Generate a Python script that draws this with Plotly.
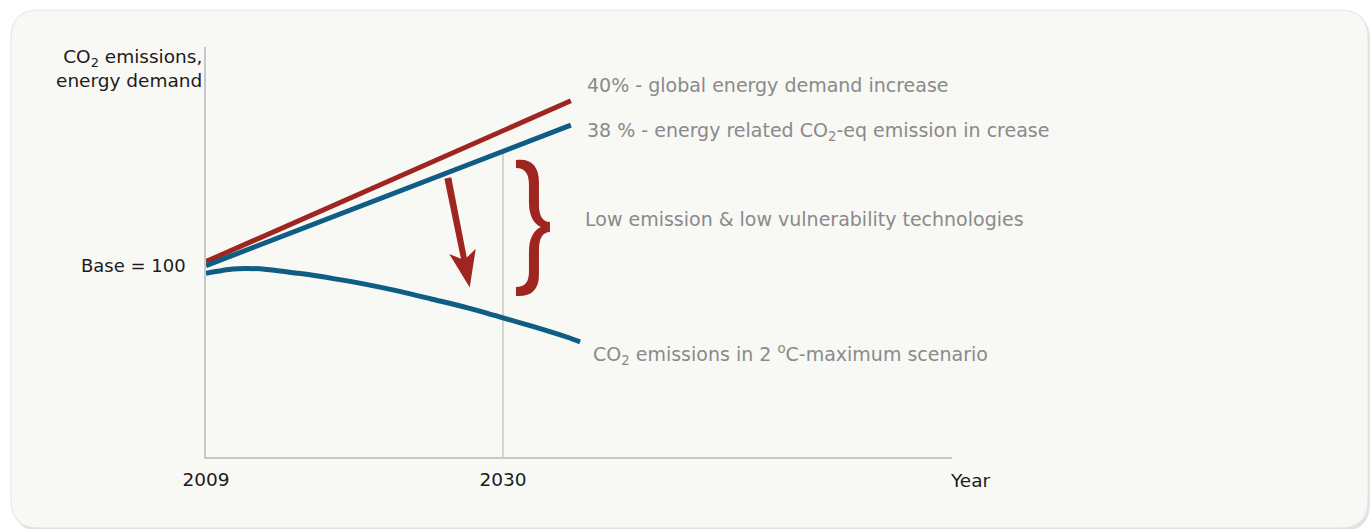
import numpy as np
import plotly.graph_objects as go

# ---------------- data ----------------
line_years = [2009, 2034.8]
demand_vals = [101.1, 141.3]          # global energy demand (+40%)
emission_vals = [100.1, 135.2]        # energy related CO2-eq emissions (+38%)
scenario_years = [2009, 2010.9, 2011.8, 2013.3, 2015.7, 2018, 2020.4, 2022.7, 2025,
                  2027.5, 2030, 2032.1, 2034.5, 2035.45]
scenario_vals = [98.2, 99.25, 99.4, 99.15, 98.1, 96.85, 95.35, 93.65, 91.7,
                 89.55, 87.05, 84.9, 82.25, 81.05]
x_tick_vals = [2009, 2030]
x_tick_text = ["2009", "2030"]
y_tick_vals = [100]
y_tick_text = ["Base = 100"]
marker_year = 2030

# ---------------- layout geometry ----------------
W, H = 1372, 529
x_range = [2009, 2061.75]
y_range = [52.25, 154.75]
M_L, M_R, M_T, M_B = 206, 420, 47, 72
PW, PH = W - M_L - M_R, H - M_T - M_B

RED = "#9f2520"
BLUE = "#0f5c84"
AXIS = "#c8c8c8"
GRAY_TXT = "#8a8a8a"
BLACK_TXT = "#1c1c1c"
FONT = "DejaVu Sans"


def to_px(x, y):
    return (M_L + (x - x_range[0]) / (x_range[1] - x_range[0]) * PW,
            M_T + (y_range[1] - y) / (y_range[1] - y_range[0]) * PH)


def to_data(px, py):
    return (x_range[0] + (px - M_L) / PW * (x_range[1] - x_range[0]),
            y_range[1] - (py - M_T) / PH * (y_range[1] - y_range[0]))


def to_paper(px, py):
    return ((px - M_L) / PW, 1 - (py - M_T) / PH)


def rounded_rect_path(x0, y0, x1, y1, r):
    def P(px, py):
        a, b = to_paper(px, py)
        return f"{a:.5f},{b:.5f}"
    return (f"M {P(x0 + r, y0)} L {P(x1 - r, y0)} Q {P(x1, y0)} {P(x1, y0 + r)} "
            f"L {P(x1, y1 - r)} Q {P(x1, y1)} {P(x1 - r, y1)} L {P(x0 + r, y1)} "
            f"Q {P(x0, y1)} {P(x0, y1 - r)} L {P(x0, y0 + r)} Q {P(x0, y0)} {P(x0 + r, y0)} Z")


fig = go.Figure()

# vertical 2030 marker (from axis up to the emission line)
top_2030 = float(np.interp(marker_year, line_years, emission_vals))
fig.add_trace(go.Scatter(x=[marker_year, marker_year], y=[y_range[0], top_2030],
                         mode="lines", line=dict(color=AXIS, width=1.5),
                         hoverinfo="skip", showlegend=False))

fig.add_trace(go.Scatter(x=scenario_years, y=scenario_vals, mode="lines",
                         line=dict(color=BLUE, width=5, shape="spline", smoothing=0.8),
                         showlegend=False))
fig.add_trace(go.Scatter(x=line_years, y=demand_vals, mode="lines",
                         line=dict(color=RED, width=5), showlegend=False))
fig.add_trace(go.Scatter(x=line_years, y=emission_vals, mode="lines",
                         line=dict(color=BLUE, width=5), showlegend=False))

shapes = []
# panel shadow + panel
shapes.append(dict(type="path", xref="paper", yref="paper", layer="below",
                   path=rounded_rect_path(13, 12, 1370, 531, 28),
                   fillcolor="#e2e2e2", line=dict(width=0)))
shapes.append(dict(type="path", xref="paper", yref="paper", layer="below",
                   path=rounded_rect_path(11, 10, 1368, 528, 28),
                   fillcolor="#f8f8f5", line=dict(color="#e4e4e4", width=1)))

# ---- downward arrow (decoration) ----
arrow_tail = (2026.1, 122.0)
arrow_tip = (2027.65, 94.6)
tx, ty = to_px(*arrow_tail)
hx, hy = to_px(*arrow_tip)
d = np.array([hx - tx, hy - ty])
L = np.hypot(*d)
d = d / L
n = np.array([-d[1], d[0]])
t0 = np.array([tx, ty])
poly = [t0 + n * 3.5,
        t0 + d * (L - 30) + n * 3.0,
        t0 + d * (L - 37) + n * 13.5,
        t0 + d * L,
        t0 + d * (L - 37) - n * 13.5,
        t0 + d * (L - 30) - n * 3.0,
        t0 - n * 3.5]
pp = [to_data(*p) for p in poly]
arrow_path = "M " + " L ".join(f"{a:.4f},{b:.4f}" for a, b in pp) + " Z"
shapes.append(dict(type="path", xref="x", yref="y", path=arrow_path,
                   fillcolor=RED, line=dict(width=0)))

# ---- curly brace (decoration), anchored at its middle point ----
brace_anchor = (2033.25, 109.75)
bx, by = to_px(*brace_anchor)
brace_cmds = [
    ("M", [(-33, -67)]),
    ("C", [(-18, -69), (-10, -61), (-10, -45)]),
    ("L", [(-10, -22)]),
    ("C", [(-10, -11), (-6, -5), (1, -5)]),
    ("L", [(1, 5)]),
    ("C", [(-6, 5), (-10, 11), (-10, 23)]),
    ("L", [(-10, 48)]),
    ("C", [(-10, 63), (-18, 70), (-33, 69)]),
    ("L", [(-33, 60)]),
    ("C", [(-24, 60), (-20, 55), (-20, 45)]),
    ("L", [(-20, 25)]),
    ("C", [(-20, 11), (-15, 3), (-8, 0)]),
    ("C", [(-15, -3), (-20, -11), (-20, -25)]),
    ("L", [(-20, -43)]),
    ("C", [(-20, -53), (-24, -59), (-33, -59)]),
]
parts = []
for cmd, pts in brace_cmds:
    coords = []
    for ox, oy in pts:
        a, b = to_data(bx + ox, by + oy)
        coords.append(f"{a:.4f},{b:.4f}")
    parts.append(cmd + " " + " ".join(coords))
brace_path = " ".join(parts) + " Z"
shapes.append(dict(type="path", xref="x", yref="y", path=brace_path,
                   fillcolor=RED, line=dict(width=0)))

annotations = []
def txt(px, py, text, color, size, xanchor="left", align="left"):
    a, b = to_paper(px, py)
    annotations.append(dict(x=a, y=b, xref="paper", yref="paper", text=text, showarrow=False,
                            xanchor=xanchor, yanchor="middle", align=align,
                            font=dict(family=FONT, size=size, color=color)))

GS = 19
txt(585, 85, "40% - global energy demand increase", GRAY_TXT, GS)
txt(585, 131, "38 % - energy related CO<sub>2</sub>-eq emission in crease", GRAY_TXT, GS)
txt(583, 219, "Low emission &amp; low vulnerability technologies", GRAY_TXT, GS)
txt(591, 354, "CO<sub>2</sub> emissions in 2 <sup>o</sup>C-maximum scenario", GRAY_TXT, GS)

txt(204, 68, "CO<sub>2</sub> emissions,<br>energy demand", BLACK_TXT, 18.5,
    xanchor="right", align="right")
txt(971, 480, "Year", BLACK_TXT, 18.5, xanchor="center")

fig.update_layout(
    width=W, height=H,
    margin=dict(l=M_L, r=M_R, t=M_T, b=M_B, pad=0),
    paper_bgcolor="white", plot_bgcolor="rgba(0,0,0,0)",
    shapes=shapes, annotations=annotations, showlegend=False,
    font=dict(family=FONT, color=BLACK_TXT, size=18.5),
    xaxis=dict(range=x_range, showgrid=False, zeroline=False, showline=True,
               linecolor=AXIS, linewidth=1.5, tickvals=x_tick_vals, ticktext=x_tick_text,
               ticks="", ticklabelstandoff=5, tickfont=dict(family=FONT, size=18.5, color=BLACK_TXT),
               fixedrange=True),
    yaxis=dict(range=y_range, showgrid=False, zeroline=False, showline=True,
               linecolor=AXIS, linewidth=1.5, tickvals=y_tick_vals, ticktext=y_tick_text,
               ticks="", ticklabelstandoff=15, tickfont=dict(family=FONT, size=18, color=BLACK_TXT),
               fixedrange=True),
)

fig.write_html("out.html")
